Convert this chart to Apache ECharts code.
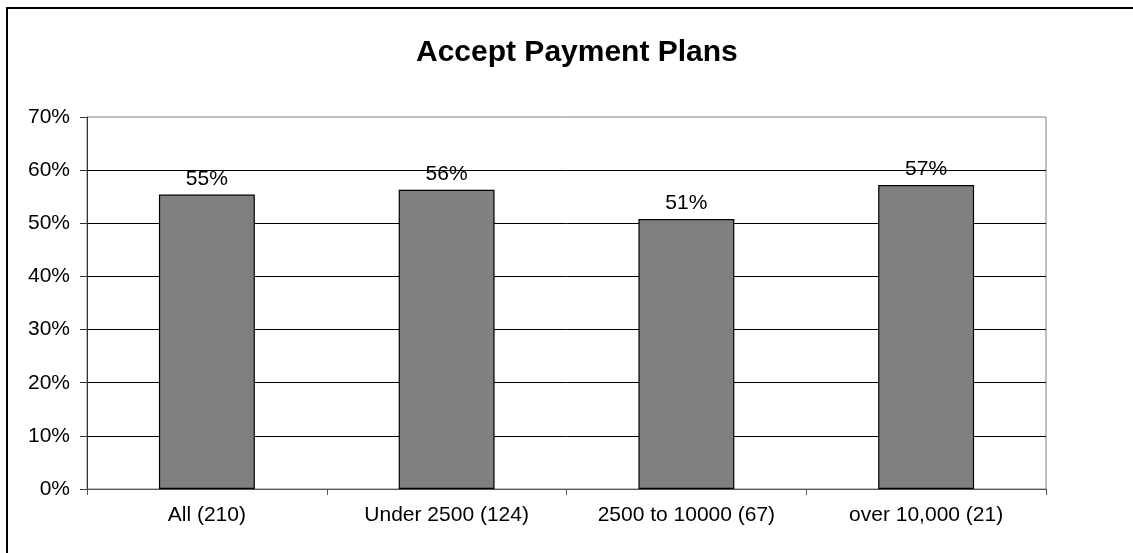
<!DOCTYPE html>
<html>
<head>
<meta charset="utf-8">
<script src="https://cdn.jsdelivr.net/npm/echarts@6/dist/echarts.min.js"></script>
<style>
    html, body { margin: 0; padding: 0; background: #fff; }
    #chart { width: 1133px; height: 553px; }
</style>
</head>
<body>
<div id="chart"></div>
<script>
// 图表数据
const categories = ['All (210)', 'Under 2500 (124)', '2500 to 10000 (67)', 'over 10,000 (21)']
const acceptValues = [55.4, 56.3, 50.8, 57.2]
const yTicks = [0, 10, 20, 30, 40, 50, 60, 70]

const font = 'Arial, "Liberation Sans", sans-serif'

let myChart = echarts.init(document.getElementById('chart'))

let option = {
    backgroundColor: '#fff',
    animation: false,
    title: {
        text: 'Accept Payment Plans',
        left: 411,
        top: 33,
        textStyle: {
            fontFamily: font,
            fontWeight: 'bold',
            fontSize: 30,
            color: '#000'
        }
    },
    // 外边框
    graphic: [{
        type: 'rect',
        shape: { x: 7, y: 8, width: 1200, height: 600 },
        style: { fill: 'none', stroke: '#000', lineWidth: 2 },
        silent: true
    }],
    grid: {
        left: 87,
        right: 87,
        top: 117,
        bottom: 64,
        show: true,
        borderColor: '#808080',
        borderWidth: 1
    },
    xAxis: {
        type: 'category',
        data: categories,
        axisLine: { lineStyle: { color: '#555', width: 1 } },
        axisTick: { show: true, length: 6, inside: false, lineStyle: { color: '#555' } },
        axisLabel: {
            fontFamily: font,
            fontSize: 21,
            color: '#000',
            margin: 16
        }
    },
    yAxis: {
        type: 'value',
        min: yTicks[0],
        max: yTicks[yTicks.length - 1],
        interval: 10,
        axisLine: { show: true, lineStyle: { color: '#333', width: 1 } },
        axisTick: { show: true, length: 7, lineStyle: { color: '#333' } },
        axisLabel: {
            fontFamily: font,
            fontSize: 21,
            color: '#000',
            margin: 17,
            formatter: '{value}%'
        },
        splitLine: {
            show: true,
            showMinLine: false,
            showMaxLine: false,
            lineStyle: { color: '#000', width: 1 }
        }
    },
    series: [{
        name: 'Accept',
        type: 'bar',
        data: acceptValues,
        barWidth: '40%',
        itemStyle: {
            color: '#808080',
            borderColor: '#000',
            borderWidth: 1.2
        },
        label: {
            show: true,
            position: 'top',
            distance: 5,
            fontFamily: font,
            fontSize: 21,
            color: '#000',
            formatter: p => Math.round(p.value) + '%'
        }
    }]
}

myChart.setOption(option)
</script>
</body>
</html>
